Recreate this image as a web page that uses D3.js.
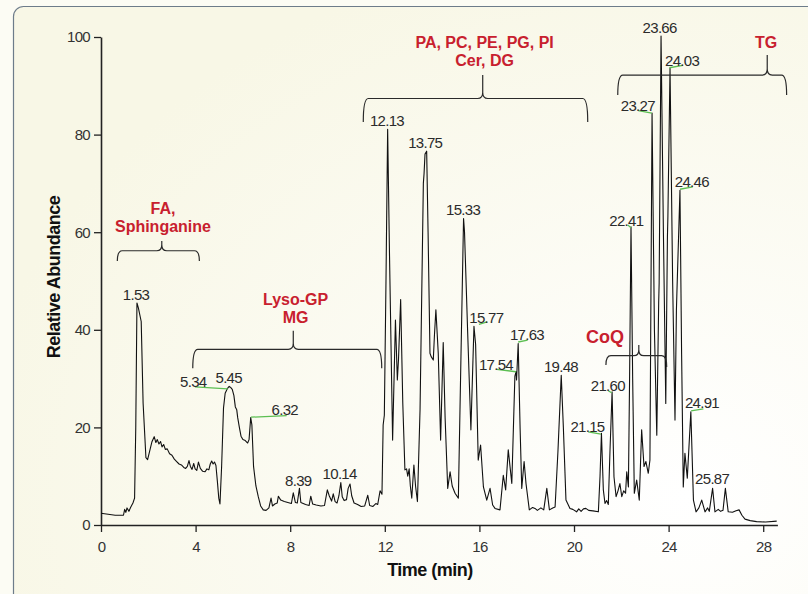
<!DOCTYPE html>
<html>
<head>
<meta charset="utf-8">
<script src="https://cdn.jsdelivr.net/npm/d3@7"></script>
<style>
  html, body { margin: 0; padding: 0; background: #fcfcf4; }
  svg { display: block; }
  text { font-family: "Liberation Sans", Arial, sans-serif; }
  .tick text { fill: #333; font-size: 15px; letter-spacing: -0.7px; }
  .peak { fill: #2b2b2b; font-size: 15px; text-anchor: middle; letter-spacing: -0.7px; }
  .group { fill: #c8202e; font-size: 16px; font-weight: bold; text-anchor: middle; }
  .title { fill: #111; font-size: 18px; font-weight: bold; text-anchor: middle; letter-spacing: -0.5px; }
</style>
</head>
<body>
<svg id="chart" width="808" height="594"></svg>
<script>
// chromatogram trace (min, relative abundance)
const traceTime = [0.00,0.30,0.60,0.95,1.00,1.05,1.10,1.18,1.25,1.35,1.42,1.47,1.52,1.58,1.70,1.78,1.90,1.97,2.05,2.15,2.25,2.32,2.38,2.45,2.52,2.58,2.65,2.72,2.80,2.90,3.00,3.10,3.20,3.30,3.40,3.50,3.58,3.65,3.72,3.78,3.85,3.92,3.98,4.05,4.12,4.20,4.30,4.40,4.48,4.56,4.62,4.68,4.74,4.80,4.86,4.92,4.98,5.03,5.10,5.18,5.25,5.35,5.42,5.48,5.55,5.62,5.68,5.74,5.78,5.85,5.92,6.00,6.10,6.20,6.26,6.33,6.38,6.45,6.55,6.65,6.75,6.86,6.98,7.10,7.19,7.25,7.35,7.45,7.50,7.60,7.75,7.90,8.05,8.13,8.22,8.30,8.39,8.45,8.55,8.65,8.80,8.87,8.95,9.10,9.30,9.45,9.57,9.65,9.75,9.82,9.90,9.98,10.06,10.14,10.20,10.28,10.38,10.45,10.53,10.60,10.70,10.85,11.00,11.15,11.28,11.36,11.50,11.62,11.70,11.80,11.88,11.93,11.98,12.05,12.12,12.20,12.33,12.45,12.53,12.58,12.67,12.76,12.85,12.92,12.97,13.03,13.08,13.14,13.23,13.30,13.38,13.49,13.63,13.66,13.70,13.77,13.83,13.91,13.96,14.05,14.10,14.16,14.26,14.36,14.47,14.55,14.66,14.76,14.85,14.97,15.11,15.22,15.33,15.37,15.50,15.64,15.77,15.84,15.95,16.05,16.17,16.31,16.45,16.56,16.66,16.87,17.01,17.11,17.22,17.37,17.50,17.55,17.57,17.64,17.72,17.79,17.89,17.97,18.11,18.25,18.35,18.45,18.60,18.72,18.85,18.96,19.10,19.20,19.32,19.46,19.55,19.66,19.83,19.95,20.11,20.20,20.30,20.40,20.50,20.62,20.80,21.03,21.10,21.16,21.24,21.31,21.38,21.45,21.52,21.61,21.69,21.78,21.86,21.94,22.02,22.10,22.18,22.23,22.30,22.35,22.41,22.48,22.55,22.65,22.76,22.86,22.96,23.04,23.14,23.21,23.30,23.40,23.50,23.58,23.60,23.68,23.78,23.88,23.95,23.97,24.06,24.17,24.27,24.33,24.35,24.48,24.55,24.62,24.69,24.79,24.94,25.05,25.16,25.28,25.40,25.54,25.65,25.72,25.86,25.96,26.10,26.20,26.30,26.40,26.52,26.70,26.85,26.98,27.10,27.23,27.45,27.72,28.10,28.57];
const traceAbund = [2.4,2.2,2.0,2.0,3.2,2.6,3.5,2.8,3.6,4.5,5.5,20,45.5,44.5,41.7,25,13.8,13.4,15.0,17.0,18.1,16.9,17.5,16.6,17.1,16.0,16.5,15.5,15.6,14.6,14.3,13.5,13.0,12.5,12.3,11.8,11.6,12.0,13.2,12.0,11.4,12.6,11.5,11.2,12.9,11.6,11.0,10.9,11.5,11.3,12.5,13.1,12.5,12.9,12.2,9.0,5.5,4.3,12,24,27,28.0,28.4,28.2,27.8,26.5,24.2,23.6,22.0,20.0,18.2,17.5,17.3,16.8,17.5,22.0,20.5,12.0,8.0,5.8,3.9,3.1,3.0,3.5,5.5,3.9,4.3,4.5,5.9,5.1,4.8,4.6,4.4,6.6,4.6,4.5,7.5,4.6,4.4,4.2,4.0,5.9,4.3,4.1,3.9,4.0,7.2,6.0,4.9,6.4,4.8,4.5,6.0,8.7,5.8,5.0,5.2,7.5,8.4,6.0,4.5,4.2,3.8,3.9,6.1,4.0,3.8,4.4,4.2,7.0,6.3,20.5,22.5,50,81.1,55,17.4,42.0,29.7,34.0,46.2,25,11.3,11.5,10.0,11.5,8.0,5.5,12.3,8.0,4.8,23.6,70.0,72,76,76.6,60,35.2,34.5,33.8,39,44.1,35.2,17.4,37.4,22,7.5,10.9,8.0,6.5,5.5,34.5,62.8,60.1,40,19.5,40.7,37.0,13.3,16.4,7.8,5.1,7.5,4.1,3.4,3.1,10.2,7.2,15.4,8.5,30.5,31.4,29.7,37.2,20,7.5,13.0,8.5,3.1,3.6,3.4,3.0,3.5,3.1,7.5,3.1,3.5,3.7,15,30.7,20,5.1,3.4,3.2,2.7,3.3,2.8,3.3,3.4,3.0,2.9,2.7,10,18.8,7.2,4.4,5.0,4.2,15,27.3,9.9,5.8,7.0,8.5,5.8,7.0,6.5,10.9,7.8,30,61.1,30,6.5,9.2,5.1,19.5,12.0,13.0,10.6,13.3,84.4,40,18.4,45.5,49.6,100.2,60,24.9,59.0,63.2,93.6,50,21.5,44.0,47.5,68.6,35,7.8,14.7,9.6,23.2,5.1,2.7,3.5,5.1,2.7,3.5,2.8,7.5,2.7,3.2,2.8,3.0,7.5,2.7,2.6,2.9,3.1,2.0,1.2,0.9,0.7,0.6,0.8];

// peak labels: text, label anchor (min, abundance)
const peakLabels = ["1.53","5.34","5.45","6.32","8.39","10.14","12.13","13.75","15.33","15.77","17.63","17.54","19.48","21.15","21.60","22.41","23.27","23.66","24.03","24.46","24.91","25.87"];
const peakLabelTime = [1.48,3.90,5.40,7.77,8.34,10.09,12.09,13.71,15.31,16.29,18.01,16.70,19.45,20.57,21.43,22.21,22.70,23.62,24.57,24.98,25.41,25.84];
const peakLabelAbund = [46.1,28.3,29.2,22.5,8.0,9.4,81.8,77.2,63.5,41.3,37.9,31.8,31.4,19.1,27.5,61.3,84.8,100.8,94.1,69.3,23.9,8.4];

// green leader lines: from peak to label
const leaderTime0 = [3.97,6.34,15.98,17.64,16.73,20.60,21.45,22.27,22.72,24.03,24.48,24.95];
const leaderAbund0 = [28.3,22.1,41.1,37.5,31.9,19.1,27.5,61.5,84.9,93.7,68.8,23.4];
const leaderTime1 = [5.36,7.85,16.33,18.04,17.55,21.14,21.59,22.41,23.29,24.60,25.02,25.47];
const leaderAbund1 = [27.9,22.4,41.6,37.9,31.4,18.6,27.1,60.9,84.4,94.2,69.3,23.8];

// lipid class brackets
const groupLines = [["FA,","Sphinganine"],["Lyso-GP","MG"],["PA, PC, PE, PG, PI","Cer, DG"],["TG"],["CoQ"]];
const groupTextTime = [2.62,8.23,16.22,28.12,21.31];
const groupTextAbund = [63.7,45.1,97.7,97.7,37.2];
const braceLeft = [0.69,3.88,11.09,21.85,21.35];
const braceRight = [4.16,11.87,20.58,28.99,23.92];
const braceTop = [56.2,36.0,87.4,92.2,34.7];
const braceEndLeft = [54.1,32.1,82.6,88.1,32.8];
const braceEndRight = [54.1,32.1,82.6,88.1,32.4];
const braceTip = [2.57,8.13,16.14,28.17,22.74];
const braceTipAbund = [58.2,39.8,92.2,96.3,36.9];

const xTicks = [0,4,8,12,16,20,24,28];
const yTicks = [0,20,40,60,80,100];

const svg = d3.select("#chart");

// card background
const defs = svg.append("defs");
const grad = defs.append("radialGradient")
  .attr("id", "bg")
  .attr("cx", "75%").attr("cy", "70%").attr("r", "80%");
grad.append("stop").attr("offset", "0%").attr("stop-color", "#ffffff");
grad.append("stop").attr("offset", "100%").attr("stop-color", "#f8f7e6");

svg.append("rect")
  .attr("x", 13.5).attr("y", 6.5)
  .attr("width", 900).attr("height", 700)
  .attr("rx", 10)
  .attr("fill", "url(#bg)")
  .attr("stroke", "#6d7c8a")
  .attr("stroke-width", 1.2);

const x = d3.scaleLinear().domain([0, 28.6]).range([101, 777.4]);
const y = d3.scaleLinear().domain([0, 100]).range([525, 37]);

// axes
svg.append("g")
  .attr("transform", "translate(0,525)")
  .call(d3.axisBottom(x).tickValues(xTicks).tickSize(7).tickSizeOuter(0).tickPadding(9));
svg.append("g")
  .attr("transform", "translate(101,0)")
  .call(d3.axisLeft(y).tickValues(yTicks).tickSize(7).tickSizeOuter(0).tickPadding(4));
svg.selectAll(".domain").attr("stroke", "#222").attr("stroke-width", 1.6);
svg.selectAll(".tick line").attr("stroke", "#222").attr("stroke-width", 1.3);
svg.selectAll(".tick text").attr("font-family", null).attr("font-size", null);

svg.append("text")
  .attr("class", "title")
  .attr("transform", "translate(60,277) rotate(-90)")
  .text("Relative Abundance");
svg.append("text")
  .attr("class", "title")
  .attr("x", 430).attr("y", 576)
  .text("Time (min)");

// trace
const trace = traceTime.map((t, i) => [t, traceAbund[i]]);
svg.append("path")
  .datum(trace)
  .attr("fill", "none")
  .attr("stroke", "#111")
  .attr("stroke-width", 1.1)
  .attr("stroke-linejoin", "round")
  .attr("d", d3.line().x(d => x(d[0])).y(d => y(d[1])));

// leader lines
svg.append("g").selectAll("line")
  .data(leaderTime0)
  .join("line")
  .attr("x1", (d, i) => x(d)).attr("y1", (d, i) => y(leaderAbund0[i]))
  .attr("x2", (d, i) => x(leaderTime1[i])).attr("y2", (d, i) => y(leaderAbund1[i]))
  .attr("stroke", "#5cbf52")
  .attr("stroke-width", 1.3);

// peak labels
svg.append("g").selectAll("text")
  .data(peakLabels)
  .join("text")
  .attr("class", "peak")
  .attr("x", (d, i) => x(peakLabelTime[i]))
  .attr("y", (d, i) => y(peakLabelAbund[i]))
  .text(d => d);

// braces
function bracePath(i) {
  const l = x(braceLeft[i]), r = x(braceRight[i]), t = y(braceTop[i]);
  const el = y(braceEndLeft[i]), er = y(braceEndRight[i]);
  const tx = x(braceTip[i]), ty = y(braceTipAbund[i]);
  const p = d3.path();
  p.moveTo(l, el);
  p.quadraticCurveTo(l, t, l + 5, t);
  p.lineTo(tx - 5, t);
  p.quadraticCurveTo(tx, t, tx, t - 6);
  p.lineTo(tx, ty);
  p.moveTo(tx, t - 6);
  p.quadraticCurveTo(tx, t, tx + 5, t);
  p.lineTo(r - 5, t);
  p.quadraticCurveTo(r, t, r, er);
  return p.toString();
}
svg.append("g").selectAll("path")
  .data(groupLines)
  .join("path")
  .attr("d", (d, i) => bracePath(i))
  .attr("fill", "none")
  .attr("stroke", "#2a2a2a")
  .attr("stroke-width", 1.2);

svg.append("g").selectAll("text")
  .data(groupLines)
  .join("text")
  .attr("class", "group")
  .attr("x", (d, i) => x(groupTextTime[i]))
  .attr("y", (d, i) => y(groupTextAbund[i]))
  .style("font-size", d => d[0] === "CoQ" ? "18px" : null)
  .each(function(d, i) {
    const sel = d3.select(this);
    d.forEach((line, k) => {
      sel.append("tspan")
        .attr("x", x(groupTextTime[i]))
        .attr("dy", k === 0 ? 0 : 18)
        .text(line);
    });
  });
</script>
</body>
</html>
